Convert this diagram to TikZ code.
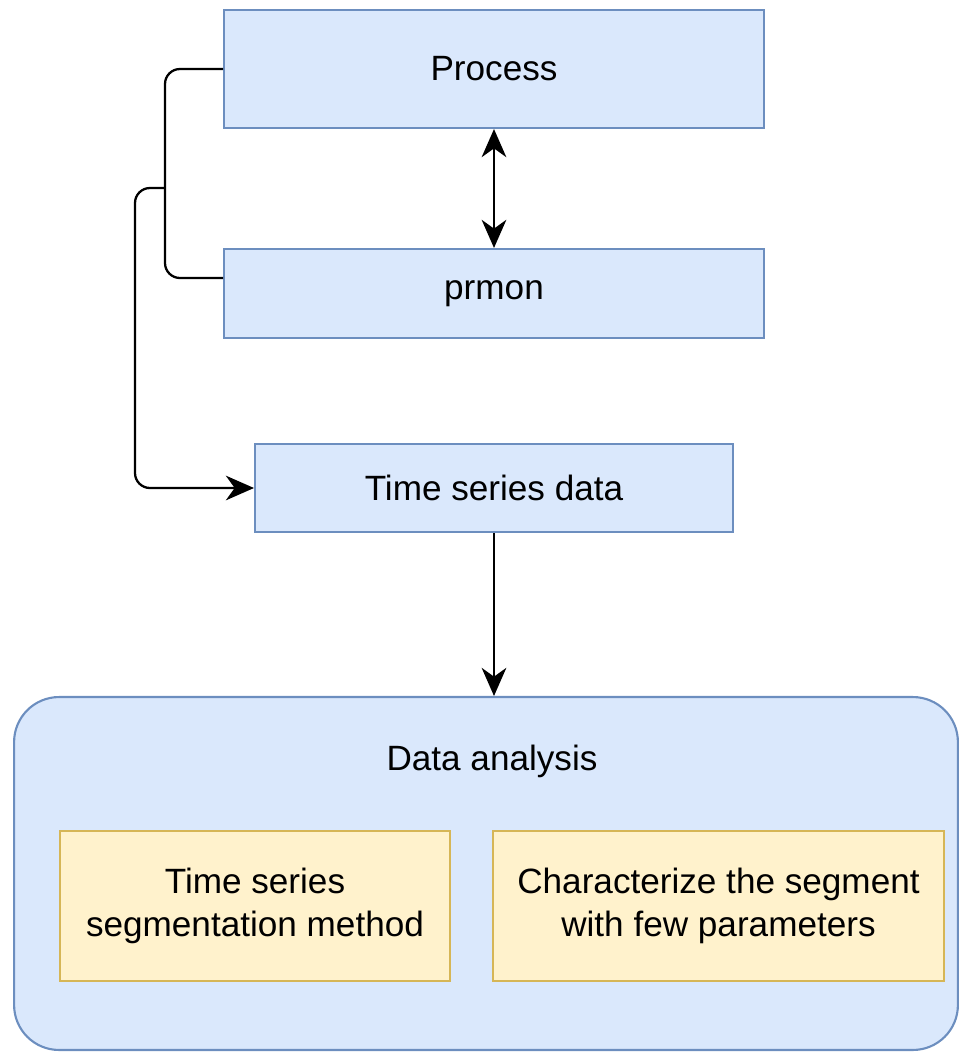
\documentclass[tikz,border=0pt]{standalone}
\usepackage{fontspec}
\setmainfont{Liberation Sans}
\usetikzlibrary{arrows.meta}
\usetikzlibrary{positioning}
\definecolor{blueFill}{HTML}{DAE8FC}
\definecolor{blueLine}{HTML}{6C8EBF}
\definecolor{yellowFill}{HTML}{FFF2CC}
\definecolor{yellowLine}{HTML}{D6B656}
\tikzset{x=0.02cm, y=-0.02cm,      % one unit is one pixel of the layout
    every node/.style={
        font=\fontsize{20}{24.5}\selectfont},
    bluebox/.style={              % Sets the properties for the blue steps
        draw=blueLine,
        fill=blueFill,
        line width=1.2pt},
    yellowbox/.style={            % Sets the properties for the analysis parts
        draw=yellowLine,
        fill=yellowFill,
        line width=1.2pt,
        align=center},
    link/.style={                 % Sets the properties for each connector
        draw,
        line width=1.3pt,
        rounded corners=0.3cm,
        >={Stealth[length=16pt,width=14pt,inset=5pt]}}}
\begin{document}
\begin{tikzpicture}
        \useasboundingbox (0,0) rectangle (960,1055);

        \node[bluebox, rounded corners=0.9cm, minimum width=18.88cm, minimum height=7.06cm] (analysis) at (486,873.5) {};
        \node (analysisLabel) at (492,761) {Data analysis};
        \node[yellowbox, minimum width=7.8cm, minimum height=3cm] (segment) at (255,906) {\raisebox{-2pt}{\parbox{7cm}{\centering Time series\\segmentation method}}};
        \node[yellowbox, minimum width=9.02cm, minimum height=3cm] (params) at (718.5,906) {\raisebox{-2pt}{\parbox{8.5cm}{\centering Characterize the segment\\with few parameters}}};

        \node[bluebox, minimum width=10.8cm, minimum height=2.36cm] (process) at (494,69) {Process};
        \node[bluebox, minimum width=10.8cm, minimum height=1.78cm] (prmon) at (494,293.5) {prmon};
        \node[bluebox, minimum width=9.56cm, minimum height=1.76cm] (tsdata) at (494,488) {Time series data};

        \coordinate (join) at (165,188);

        \draw[link, <->] (process) -- (prmon);
        \draw[link] (process.west) -- (165,69) -- (165,278) -- (prmon.west |- 0,278);
        \draw[link, ->] (join) -- (135,188) -- (135,488) -- (tsdata.west);
        \draw[link, ->] (tsdata) -- (analysis.north -| tsdata.south);
    \end{tikzpicture}
\end{document}
